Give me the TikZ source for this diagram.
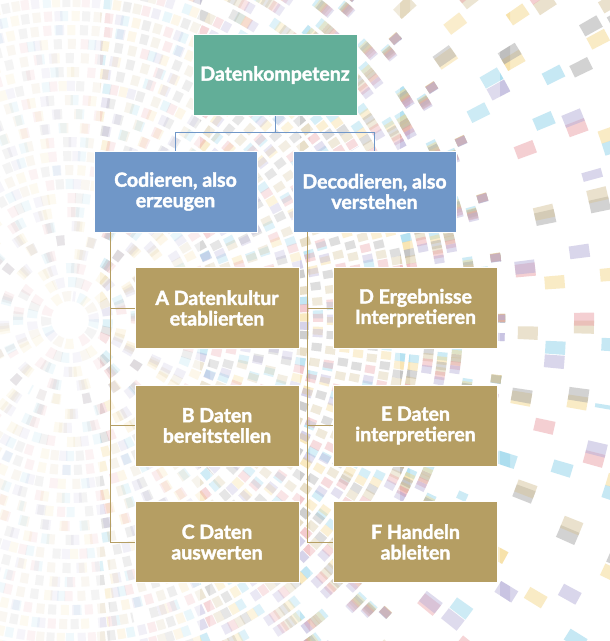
\documentclass[tikz,border=0pt]{standalone}
\usepackage{fontspec}
\setmainfont{Lato}[BoldFeatures={FakeBold=2}]
\definecolor{topgreen}{HTML}{62AE98}
\definecolor{midblue}{HTML}{7097C8}
\definecolor{leafgold}{HTML}{B59E63}
\definecolor{bgblue}{HTML}{8FD3EA}
\definecolor{bgyellow}{HTML}{F5D88C}
\definecolor{bggrey}{HTML}{A6A6A6}
\definecolor{bgsand}{HTML}{D6C59C}
\definecolor{bgpink}{HTML}{EBA0A6}
\definecolor{bglilac}{HTML}{B5AED8}
\tikzset{
  box/.style={draw=white, line width=0.8pt, minimum height=81pt, align=center,
    text=white, font=\fontsize{19.5}{20.5}\selectfont\bfseries},
  topbox/.style={box, fill=topgreen, minimum width=164pt},
  midbox/.style={box, fill=midblue, minimum width=163pt},
  leafbox/.style={box, fill=leafgold, minimum width=164pt},
  blueline/.style={draw=midblue, line width=1pt},
  goldline/.style={draw=leafgold, line width=1pt},
}
\begin{document}
\begin{tikzpicture}[x=1pt, y=-1pt]

    \useasboundingbox (0,0) rectangle (610,641);
    \fill[white] (0,0) rectangle (610,641);

    % Background rings
    \coordinate (ctr) at (70,320);
    \foreach \xa/\op in {0/0.12,100/0.18,200/0.28,300/0.36,400/0.44,500/0.5} {
      \begin{scope}
        \clip (\xa,0) rectangle ++(110,641);
        \foreach \r [count=\i] in {24,38,...,660} {
          \pgfmathtruncatemacro\outer{\r>430 ? 1 : 0}
          \pgfmathtruncatemacro\skipme{\outer*mod(\i,2)}
          \pgfmathsetmacro\lw{\outer ? 20 : 10}
          \pgfmathsetmacro\on{\outer ? 13 : 8}
          \pgfmathsetmacro\gap{\outer ? 210+mod(\i*37,150) : 53}
          \ifnum\skipme=0
          \foreach \c [count=\j] in {bgblue,bgyellow,bggrey,bgsand,bgpink,bglilac} {
            \pgfmathtruncatemacro\ph{mod(\i*17+\j*23,60)}
            \draw[\c, opacity=\op, line width=\lw pt, dash pattern=on \on pt off \gap pt, dash phase=\ph pt,
              rotate around={\i*47+\j*5:(ctr)}]
              (ctr) circle[radius=\r];
          }
          \fi
        }
      \end{scope}
    }

    % Top level
    \node[topbox] (daten) at (275,75) {Datenkompetenz};

    % Second level
    \node[midbox] (cod) at (175.5,191.5) {Codieren, also\\erzeugen};
    \node[midbox] (dec) at (374.5,191.5) {Decodieren, also\\verstehen};
    \draw[blueline] (daten.south) -- ([yshift=-17pt]daten.south) -| (cod.north);
    \draw[blueline] ([yshift=-17pt]daten.south) -| (dec.north);

    % Leaves, left column
    \node[leafbox] (a) at (217,308) {A Datenkultur\\etablierten};
    \node[leafbox] (b) at (217,425.5) {B Daten\\bereitstellen};
    \node[leafbox] (c) at (217,542) {C Daten\\auswerten};

    % Leaves, right column
    \node[leafbox] (d) at (415.5,308) {D Ergebnisse\\Interpretieren};
    \node[leafbox] (e) at (415.5,425.5) {E Daten\\interpretieren};
    \node[leafbox] (f) at (415.5,542) {F Handeln\\ableiten};

    % Gold connectors
    \draw[goldline] ([xshift=17pt]cod.south west) |- (c.west);
    \draw[goldline] ([xshift=17pt]cod.south west) |- (a.west);
    \draw[goldline] ([xshift=17pt]cod.south west) |- (b.west);
    \draw[goldline] ([xshift=15pt]dec.south west) |- (f.west);
    \draw[goldline] ([xshift=15pt]dec.south west) |- (d.west);
    \draw[goldline] ([xshift=15pt]dec.south west) |- (e.west);

\end{tikzpicture}
\end{document}
